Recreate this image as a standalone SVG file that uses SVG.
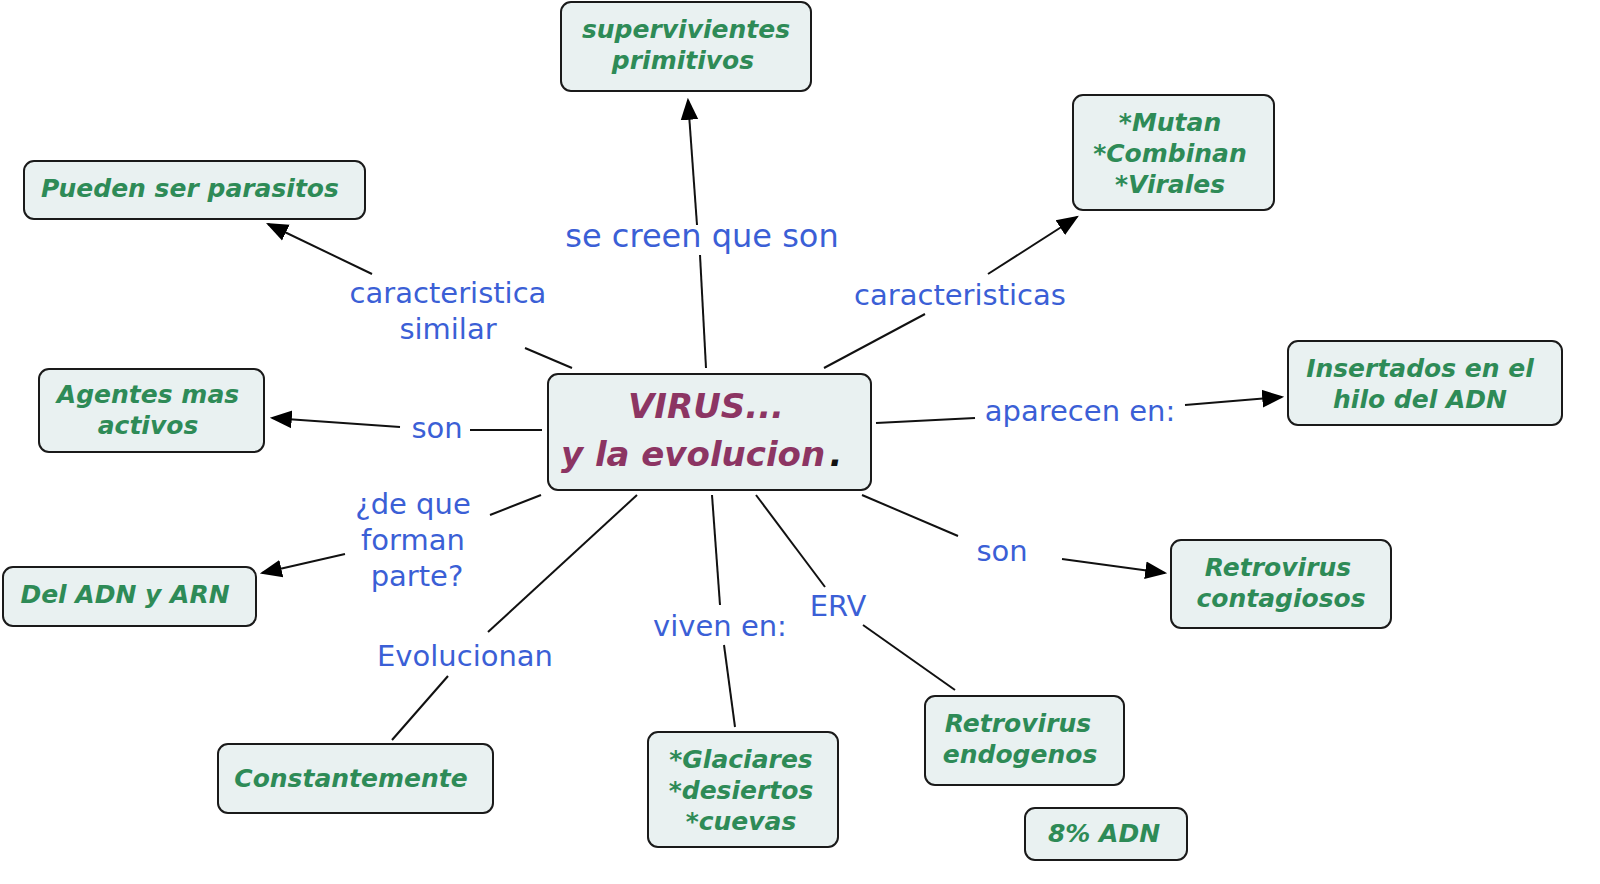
<svg xmlns="http://www.w3.org/2000/svg" width="1600" height="884" viewBox="0 0 1600 884">
<style>
.n{fill:#e9f1f1;stroke:#1a1a1a;stroke-width:2}
.g{font-family:"DejaVu Sans",sans-serif;font-weight:bold;font-style:italic;font-size:25px;fill:#2e8b57;text-anchor:middle}
.b{font-family:"DejaVu Sans",sans-serif;font-size:29px;fill:#3b5fd6;text-anchor:middle}
.c{font-family:"DejaVu Sans",sans-serif;font-weight:bold;font-style:italic;font-size:34px;fill:#8c3563;text-anchor:middle}
.l{stroke:#111;stroke-width:2;fill:none}
</style>
<defs>
<marker id="A" viewBox="0 0 10 10" refX="9" refY="5" markerWidth="22" markerHeight="22" markerUnits="userSpaceOnUse" orient="auto"><path d="M0,1L10,5L0,9z" fill="#000"/></marker></defs>
<g id="connectors">
<path class="l" d="M706,368L700,255"/><path class="l" d="M697,225L688,100" marker-end="url(#A)"/>
<path class="l" d="M572,368L525,348"/><path class="l" d="M372,274L268,224" marker-end="url(#A)"/>
<path class="l" d="M824,368L925,314"/><path class="l" d="M988,274L1077,217" marker-end="url(#A)"/>
<path class="l" d="M876,423L975,418"/><path class="l" d="M1185,405L1282,397" marker-end="url(#A)"/>
<path class="l" d="M862,495L958,536"/><path class="l" d="M1062,559L1165,573" marker-end="url(#A)"/>
<path class="l" d="M756,495L825,587"/><path class="l" d="M863,625L955,690"/>
<path class="l" d="M712,495L720,605"/><path class="l" d="M724,645L735,727"/>
<path class="l" d="M637,495L488,632"/><path class="l" d="M448,676L392,740"/>
<path class="l" d="M541,495L490,515"/><path class="l" d="M345,554L262,573" marker-end="url(#A)"/>
<path class="l" d="M542,430L470,430"/><path class="l" d="M400,427L272,418" marker-end="url(#A)"/>
<text class="b" x="702" y="247" style="font-size:32px">se creen que son</text>
<text class="b" x="448" y="303">caracteristica</text><text class="b" x="448" y="339">similar</text>
<text class="b" x="960" y="305">caracteristicas</text>
<text class="b" x="1080" y="421">aparecen en:</text>
<text class="b" x="1002" y="561">son</text>
<text class="b" x="838" y="616">ERV</text>
<text class="b" x="720" y="636">viven en:</text>
<text class="b" x="465" y="666">Evolucionan</text>
<text class="b" x="413" y="514">¿de que</text><text class="b" x="413" y="550">forman</text><text class="b" x="417" y="586">parte?</text>
<text class="b" x="437" y="438">son</text>
</g>
<g id="center"><rect class="n" x="548" y="374" width="323" height="116" rx="10"/><text class="c" x="706" y="418">VIRUS...</text><text class="c" x="693" y="466">y la evolucion</text><text class="c" x="836" y="466" style="fill:#111">.</text></g>
<g id="n1"><rect class="n" x="561" y="2" width="250" height="89" rx="10"/><text class="g" x="686" y="38">supervivientes</text><text class="g" x="683" y="69">primitivos</text></g>
<g id="n2"><rect class="n" x="1073" y="95" width="201" height="115" rx="10"/><text class="g" x="1170" y="131">*Mutan</text><text class="g" x="1170" y="162">*Combinan</text><text class="g" x="1170" y="193">*Virales</text></g>
<g id="n3"><rect class="n" x="24" y="161" width="341" height="58" rx="10"/><text class="g" x="190" y="197">Pueden ser parasitos</text></g>
<g id="n4"><rect class="n" x="39" y="369" width="225" height="83" rx="10"/><text class="g" x="148" y="403">Agentes mas</text><text class="g" x="148" y="434">activos</text></g>
<g id="n5"><rect class="n" x="1288" y="341" width="274" height="84" rx="10"/><text class="g" x="1420" y="377">Insertados en el</text><text class="g" x="1420" y="408">hilo del ADN</text></g>
<g id="n6"><rect class="n" x="3" y="567" width="253" height="59" rx="10"/><text class="g" x="125" y="603">Del ADN y ARN</text></g>
<g id="n7"><rect class="n" x="1171" y="540" width="220" height="88" rx="10"/><text class="g" x="1278" y="576">Retrovirus</text><text class="g" x="1281" y="607">contagiosos</text></g>
<g id="n8"><rect class="n" x="218" y="744" width="275" height="69" rx="10"/><text class="g" x="351" y="787">Constantemente</text></g>
<g id="n9"><rect class="n" x="648" y="732" width="190" height="115" rx="10"/><text class="g" x="741" y="768">*Glaciares</text><text class="g" x="741" y="799">*desiertos</text><text class="g" x="741" y="830">*cuevas</text></g>
<g id="n10"><rect class="n" x="925" y="696" width="199" height="89" rx="10"/><text class="g" x="1018" y="732">Retrovirus</text><text class="g" x="1020" y="763">endogenos</text></g>
<g id="n11"><rect class="n" x="1025" y="808" width="162" height="52" rx="10"/><text class="g" x="1104" y="842">8% ADN</text></g>
</svg>
